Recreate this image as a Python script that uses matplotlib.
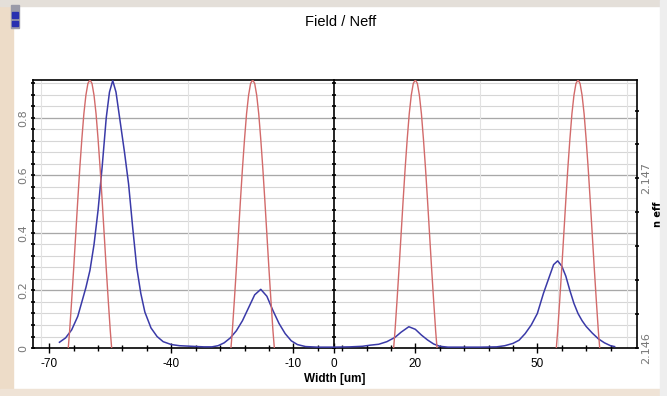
import matplotlib.pyplot as plt
from matplotlib.patches import Rectangle
from matplotlib.ticker import MultipleLocator, FixedLocator, NullFormatter

# E field profile of the supermode (blue)
field_x = [-67.5, -66, -64.5, -63, -62, -61, -60, -59, -58, -57, -56, -55.2,
           -54.4, -53.6, -52.6, -51.5, -50.5, -49.5, -48.5, -47.5, -46.5, -45,
           -43.5, -42, -40, -38, -35, -32, -30, -28.5, -27, -25.5, -24, -22.5,
           -21, -19.5, -18, -16.5, -15, -13.5, -12, -10.5, -9, -7, -4, 0, 4, 7,
           9, 11, 13, 15, 16.5, 18.4, 20, 21.5, 23, 24.5, 26, 28, 32, 36, 40,
           42, 44, 45.5, 47, 48.5, 50, 51.5, 53, 54, 55, 56, 57, 58, 59, 60,
           61, 62, 63.5, 65, 66.5, 68, 69]
field_e = [0.02, 0.035, 0.063, 0.11, 0.16, 0.21, 0.27, 0.36, 0.48, 0.63, 0.80,
           0.89, 0.93, 0.89, 0.79, 0.68, 0.57, 0.42, 0.28, 0.19, 0.125, 0.07,
           0.04, 0.022, 0.012, 0.008, 0.006, 0.004, 0.004, 0.008, 0.018, 0.035,
           0.06, 0.095, 0.14, 0.185, 0.204, 0.18, 0.13, 0.085, 0.05, 0.025,
           0.012, 0.005, 0.003, 0.003, 0.004, 0.006, 0.01, 0.013, 0.022, 0.037,
           0.055, 0.074, 0.065, 0.045, 0.028, 0.014, 0.006, 0.003, 0.003,
           0.003, 0.004, 0.008, 0.016, 0.027, 0.05, 0.08, 0.12, 0.19, 0.25,
           0.29, 0.303, 0.285, 0.25, 0.2, 0.155, 0.12, 0.095, 0.075, 0.052,
           0.032, 0.018, 0.008, 0.005]

# index profile of the four waveguides (red), right axis
neff_x = [-66, -65, -64.5, -64, -63.5, -63, -62.5, -62, -61.5, -61, -60.5, -60,
          -59.5, -59, -58.5, -58, -57.5, -57, -56.5, -56, -55.5, -55, -54,
          -26, -25, -24.5, -24, -23.5, -23, -22.5, -22, -21.5, -21, -20.5, -20,
          -19.5, -19, -18.5, -18, -17.5, -17, -16.5, -16, -15.5, -15, -14,
          14, 15, 15.5, 16, 16.5, 17, 17.5, 18, 18.5, 19, 19.5, 20,
          20.5, 21, 21.5, 22, 22.5, 23, 23.5, 24, 24.5, 25, 26,
          54, 55, 55.5, 56, 56.5, 57, 57.5, 58, 58.5, 59, 59.5, 60,
          60.5, 61, 61.5, 62, 62.5, 63, 63.5, 64, 64.5, 65, 66]
neff_n = [2.14580, 2.14610, 2.14628, 2.14647, 2.14667, 2.14687, 2.14706, 2.14723,
          2.14738, 2.14749, 2.14756, 2.14758, 2.14756, 2.14749, 2.14738, 2.14723,
          2.14706, 2.14687, 2.14667, 2.14647, 2.14628, 2.14610, 2.14580] * 4

x_major = [-70, -40, -10, 0, 20, 50]
x_labels = ["-70", "-40", "-10", "0", "20", "50"]
x_grid = [-72, -36, 36, 55, 72]
e_ticks = [0, 0.2, 0.4, 0.6, 0.8]
e_labels = ["0", "0.2", "0.4", "0.6", "0.8"]
n_ticks = [2.146, 2.147]
n_labels = ["2.146", "2.147"]

narrow = ["Liberation Sans Narrow", "Liberation Sans"]

fig = plt.figure(figsize=(6.67, 3.96), dpi=100)

# screenshot margins
fig.patches.append(Rectangle((0, 0), 0.02, 1, transform=fig.transFigure,
                             color="#eddcc8", zorder=0))
fig.patches.append(Rectangle((0, 0.985), 1, 0.015, transform=fig.transFigure,
                             color="#e4dfd9", zorder=0))
fig.patches.append(Rectangle((0, 0), 1, 0.018, transform=fig.transFigure,
                             color="#efe3d6", zorder=0))
fig.patches.append(Rectangle((0.99, 0), 0.01, 1, transform=fig.transFigure,
                             color="#eeeeee", zorder=0))
fig.patches.append(Rectangle((0.017, 0.93), 0.011, 0.057, transform=fig.transFigure,
                             color="#9a9aa8", zorder=1))
fig.patches.append(Rectangle((0.018, 0.955), 0.009, 0.014, transform=fig.transFigure,
                             color="#2830b0", zorder=2))
fig.patches.append(Rectangle((0.018, 0.935), 0.009, 0.012, transform=fig.transFigure,
                             color="#2830b0", zorder=2))

ax = fig.add_axes([0.0495, 0.1212, 0.9055, 0.6768])
ax.set_xlim(-74, 74.5)
ax.set_ylim(0, 0.932)

# grid
ax.yaxis.set_major_locator(FixedLocator(e_ticks))
ax.yaxis.set_minor_locator(MultipleLocator(0.04))
for y in [i * 0.04 for i in range(1, 24)]:
    ax.axhline(y, color="#d6d6d6", lw=0.8, zorder=0)
for y in e_ticks[1:]:
    ax.axhline(y, color="#a8a8a8", lw=0.9, zorder=0)
for x in x_grid:
    ax.axvline(x, color="#e2e2e2", lw=0.8, zorder=0)

ax.plot(field_x, field_e, color="#3a3aa8", lw=1.1, zorder=3)

ax.set_xticks(x_major)
ax.set_xticklabels(x_labels, family=narrow, fontsize=8.5)
ax.set_xticks([-70 + 6 * i for i in range(24)], minor=True)
ax.set_yticklabels(e_labels, rotation=90, va="center", color="#777777",
                   fontsize=8)
ax.tick_params(axis="x", which="major", direction="inout", length=7, width=1)
ax.tick_params(axis="x", which="minor", direction="inout", length=4, width=1)
ax.tick_params(axis="y", which="both", direction="inout", length=2.5,
               width=1.2, pad=2)
for s in ax.spines.values():
    s.set_linestyle((0, (1, 1)))
    s.set_linewidth(1.2)
    s.set_color("black")

# axis line at x = 0
x0 = (0 - ax.get_xlim()[0]) / (ax.get_xlim()[1] - ax.get_xlim()[0])
mid = ax.secondary_yaxis(x0)
mid.set_yticks(e_ticks)
mid.yaxis.set_minor_locator(MultipleLocator(0.04))
mid.yaxis.set_major_formatter(NullFormatter())
mid.tick_params(which="both", direction="inout", length=2.5, width=1.2)
mid.spines["left"].set_linewidth(1.2)

ax.set_xlabel("Width [um]", family=narrow, fontsize=8.5, fontweight="bold",
              labelpad=2)
ax.set_ylabel("E field", fontsize=7, fontweight="bold", labelpad=1)

# refractive index on the right axis
ax2 = ax.twinx()
ax2.set_ylim(2.146, 2.14758)
ax2.plot(neff_x, neff_n, color="#d26a6a", lw=1.0, zorder=2)
ax2.set_yticks(n_ticks)
ax2.set_yticklabels(n_labels, rotation=90, va="center", color="#777777",
                    fontsize=8)
ax2.yaxis.set_minor_locator(MultipleLocator(0.0002))
ax2.tick_params(which="both", direction="inout", length=2.5, width=1.2, pad=2)
ax2.set_ylabel("n eff", fontsize=7, fontweight="bold", labelpad=1)
for s in ax2.spines.values():
    s.set_visible(False)

fig.text(0.51, 0.945, "Field / Neff", family=narrow, fontsize=10.5,
         ha="center", va="center")

fig.savefig("out.png", dpi=100)
